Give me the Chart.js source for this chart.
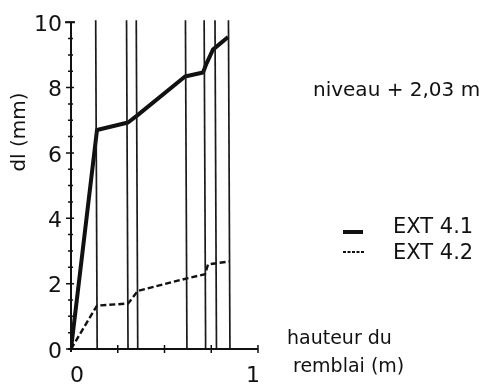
<!DOCTYPE html>
<html>
<head>
<meta charset="utf-8">
<script src="https://cdn.jsdelivr.net/npm/chart.js@4"></script>
<style>
  html, body { margin: 0; padding: 0; background: #fff; }
  #wrap { width: 495px; height: 389px; }
</style>
</head>
<body>
<div id="wrap"><canvas id="chart" width="495" height="389"></canvas></div>
<script>
// hauteur du remblai (m) / dl (mm)
var hauteur41 = [0, 0.139, 0.305, 0.353, 0.61, 0.706, 0.722, 0.759, 0.84];
var dl41 = [0, 6.7, 6.93, 7.14, 8.34, 8.46, 8.7, 9.16, 9.55];
var hauteur42 = [0, 0.139, 0.305, 0.358, 0.626, 0.717, 0.733, 0.85];
var dl42 = [0, 1.33, 1.39, 1.78, 2.17, 2.29, 2.59, 2.68];
// traits verticaux (étapes de remblai)
var etapes = [0.14, 0.305, 0.357, 0.62, 0.72, 0.778, 0.85];
var yTicks = [0, 2, 4, 6, 8, 10];
var xTicks = [0, 1];

var ink = '#111';
var font = 'DejaVu Sans';

function pts(xs, ys) {
  return xs.map(function(x, i) { return { x: x, y: ys[i] }; });
}

var datasets = [];
etapes.forEach(function(h) {
  datasets.push({
    data: [{ x: h, y: 0 }, { x: h - 0.008, y: 10.06 }],
    borderColor: '#1a1a1a', borderWidth: 1.7, pointRadius: 0, showLine: true, clip: false
  });
});
datasets.push({
  label: 'EXT 4.1', data: pts(hauteur41, dl41),
  borderColor: ink, borderWidth: 4, pointRadius: 0, showLine: true, borderJoinStyle: 'round'
});
datasets.push({
  label: 'EXT 4.2', data: pts(hauteur42, dl42),
  borderColor: ink, borderWidth: 2.4, borderDash: [6, 3], pointRadius: 0, showLine: true
});

// axes, graduations et textes par-dessus le graphique
var decor = {
  id: 'decor',
  afterDraw: function(chart) {
    var ctx = chart.ctx, xs = chart.scales.x, ys = chart.scales.y;
    var x0 = xs.getPixelForValue(0), y0 = ys.getPixelForValue(0);
    var x1 = xs.getPixelForValue(1), yTop = ys.getPixelForValue(10);
    ctx.save();
    ctx.strokeStyle = ink;
    ctx.lineWidth = 2;
    ctx.beginPath();
    ctx.moveTo(x0, y0 + 3); ctx.lineTo(x0, yTop);
    ctx.moveTo(x0 - 6, yTop); ctx.lineTo(x0 + 4, yTop);
    ctx.moveTo(x0 - 3, y0); ctx.lineTo(x1, y0);
    ctx.stroke();
    ctx.lineWidth = 1.5;
    ctx.beginPath();
    for (var v = 0; v <= 10; v += 0.5) {
      var py = ys.getPixelForValue(v);
      var major = v % 2 === 0;
      ctx.moveTo(x0 - (major ? 5 : 3), py); ctx.lineTo(x0 + (major ? 3 : 2), py);
    }
    for (var h = 0.25; h <= 1; h += 0.25) {
      var px = xs.getPixelForValue(h);
      ctx.moveTo(px, y0 - 4); ctx.lineTo(px, y0 + 4);
    }
    ctx.stroke();

    ctx.fillStyle = ink;
    ctx.textBaseline = 'middle';
    ctx.textAlign = 'center';
    ctx.font = '22px "' + font + '"';
    ctx.fillText('0', xs.getPixelForValue(xTicks[0]) + 6, y0 + 27);
    ctx.fillText('1', xs.getPixelForValue(xTicks[1]) - 5, y0 + 27);

    ctx.textAlign = 'left';
    ctx.font = '20px "' + font + '"';
    ctx.fillText('niveau + 2,03 m', 313, 91);

    // légende
    ctx.lineWidth = 4;
    ctx.beginPath(); ctx.moveTo(343, 232); ctx.lineTo(363, 232); ctx.stroke();
    ctx.lineWidth = 2;
    ctx.setLineDash([3, 1.5]);
    ctx.beginPath(); ctx.moveTo(343, 252); ctx.lineTo(365, 252); ctx.stroke();
    ctx.setLineDash([]);
    ctx.font = '21px "' + font + '"';
    ctx.fillText('EXT 4.1', 393, 228);
    ctx.fillText('EXT 4.2', 393, 254);

    ctx.font = '19px "' + font + '"';
    ctx.fillText('hauteur du', 287, 339);
    ctx.fillText('remblai (m)', 293, 367);

    ctx.translate(20, 132);
    ctx.rotate(-Math.PI / 2);
    ctx.textAlign = 'center';
    ctx.font = '20px "' + font + '"';
    ctx.fillText('dl (mm)', 0, 0);
    ctx.restore();
  }
};

new Chart(document.getElementById('chart'), {
  type: 'scatter',
  data: { datasets: datasets },
  options: {
    responsive: false,
    animation: false,
    layout: { padding: { left: 0, right: 237, top: 17, bottom: 0 } },
    plugins: { legend: { display: false }, tooltip: { enabled: false } },
    scales: {
      x: {
        type: 'linear', min: 0, max: 1,
        afterFit: function(s) { s.height = 40; },
        border: { display: false },
        grid: { display: false, drawTicks: false },
        ticks: { display: false }
      },
      y: {
        type: 'linear', min: 0, max: 10,
        afterFit: function(s) { s.width = 71; },
        afterBuildTicks: function(s) { s.ticks = yTicks.map(function(v) { return { value: v }; }); },
        border: { display: false },
        grid: { display: false, drawTicks: false },
        ticks: { color: ink, padding: 9, labelOffset: 3, font: { family: font, size: 22 } }
      }
    }
  },
  plugins: [decor]
});
</script>
</body>
</html>
